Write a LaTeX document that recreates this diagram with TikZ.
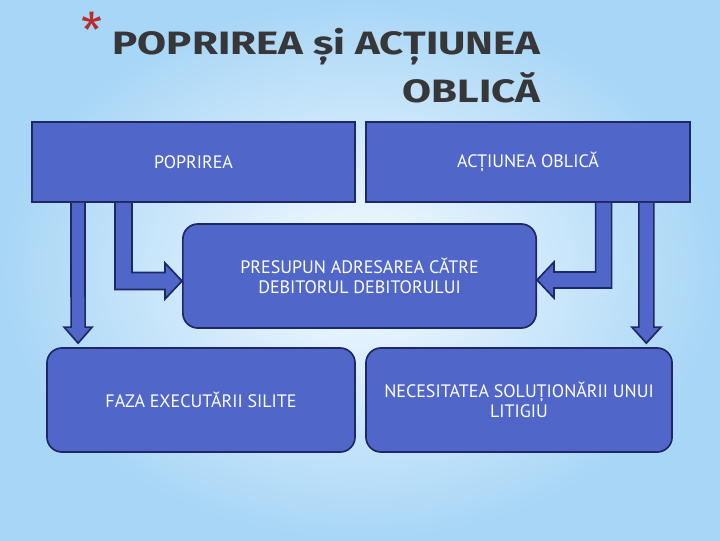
\documentclass[tikz,border=0pt]{standalone}
\usepackage{fontspec}
\setmainfont{PT Sans}
\newfontfamily\titlefont[FakeStretch=1.3]{Fira Sans}
\newfontfamily\astfont{Fira Sans}
\usetikzlibrary{calc}
\definecolor{boxblue}{RGB}{80,103,201}
\definecolor{navy}{RGB}{30,40,100}
\definecolor{bgin}{RGB}{246,251,255}
\definecolor{bgout}{RGB}{168,214,246}
\definecolor{ttlgray}{RGB}{55,55,58}
\definecolor{astred}{RGB}{185,45,45}

\begin{document}
\begin{tikzpicture}[
  x=0.025cm, y=-0.025cm,
  box/.style={draw=navy, line width=1.2pt, fill=boxblue, text=white, align=center,
    inner sep=0pt, font=\fontsize{12.8}{14.5}\selectfont},
  rbox/.style={box, rounded corners=0.375cm},
  barrow/.style={draw=navy, line width=1.2pt, fill=boxblue, line join=miter},
  ttl/.style={text=ttlgray, align=right, inner sep=0pt, font=\titlefont\bfseries\fontsize{23}{34}\selectfont}
]
  % background
  \shade[inner color=bgin, outer color=bgout] (0,0) rectangle (720,540);

  % title
  \node[text=astred, inner sep=0pt, font=\astfont\fontsize{34}{34}\selectfont] (ast) at (92,30) {*};
  \node[ttl, anchor=north east] (title) at (541,28) {POPRIREA și ACȚIUNEA\\OBLICĂ};

  % boxes
  \node[box, minimum width=8.08cm, minimum height=2cm] (pop) at (193.5,162) {POPRIREA};
  \node[box, minimum width=8.1cm, minimum height=2cm] (act) at (528,162) {ACȚIUNEA OBLICĂ};
  \node[rbox, minimum width=8.83cm, minimum height=2.6cm] (pre) at (359.5,276) {PRESUPUN ADRESAREA CĂTRE\\DEBITORUL DEBITORULUI};
  \node[rbox, minimum width=7.7cm, minimum height=2.6cm] (fes) at (201,400) {FAZA EXECUTĂRII SILITE};
  \node[rbox, minimum width=7.65cm, minimum height=2.6cm] (nec) at (519,400) {NECESITATEA SOLUȚIONĂRII UNUI\\LITIGIU};

  % down arrows
  \path (pop.south west) ++(47,0) coordinate (dl0);
  \path (fes.north west) ++(32,-4) coordinate (dl1);
  \filldraw[barrow] ($(dl0)+(-7,0)$) -- ($(dl1)+(-7,-16)$) -- ($(dl1)+(-14,-16)$) -- (dl1)
    -- ($(dl1)+(14,-16)$) -- ($(dl1)+(7,-16)$) -- ($(dl0)+(7,0)$);
  \path (act.south east) ++(-44.5,0) coordinate (dr0);
  \path (nec.north east) ++(-26.5,-4) coordinate (dr1);
  \filldraw[barrow] ($(dr0)+(-7.5,0)$) -- ($(dr1)+(-7.5,-16)$) -- ($(dr1)+(-14.5,-16)$) -- (dr1)
    -- ($(dr1)+(14.5,-16)$) -- ($(dr1)+(7.5,-16)$) -- ($(dr0)+(7.5,0)$);

  % bent arrows
  \path (pop.south west) ++(92.5,0) coordinate (bl0);
  \path (pre.west) ++(0,5) coordinate (bl1);
  \coordinate (blc) at (bl0 |- bl1);
  \filldraw[barrow] ($(bl0)+(-8.5,0)$) -- ($(blc)+(-8.5,8.5)$) -- ($(bl1)+(-17,8.5)$) -- ($(bl1)+(-17,18)$)
    -- (bl1) -- ($(bl1)+(-17,-18)$) -- ($(bl1)+(-17,-8.5)$) -- ($(blc)+(8.5,-8.5)$) -- ($(bl0)+(8.5,0)$);
  \path (act.south west) ++(238.5,0) coordinate (br0);
  \path (pre.east) ++(0,4) coordinate (br1);
  \coordinate (brc) at (br0 |- br1);
  \filldraw[barrow] ($(br0)+(8,0)$) -- ($(brc)+(8,8)$) -- ($(br1)+(17,8)$) -- ($(br1)+(17,18)$)
    -- (br1) -- ($(br1)+(17,-18)$) -- ($(br1)+(17,-8)$) -- ($(brc)+(-8,-8)$) -- ($(br0)+(-8,0)$);
\end{tikzpicture}
\end{document}
